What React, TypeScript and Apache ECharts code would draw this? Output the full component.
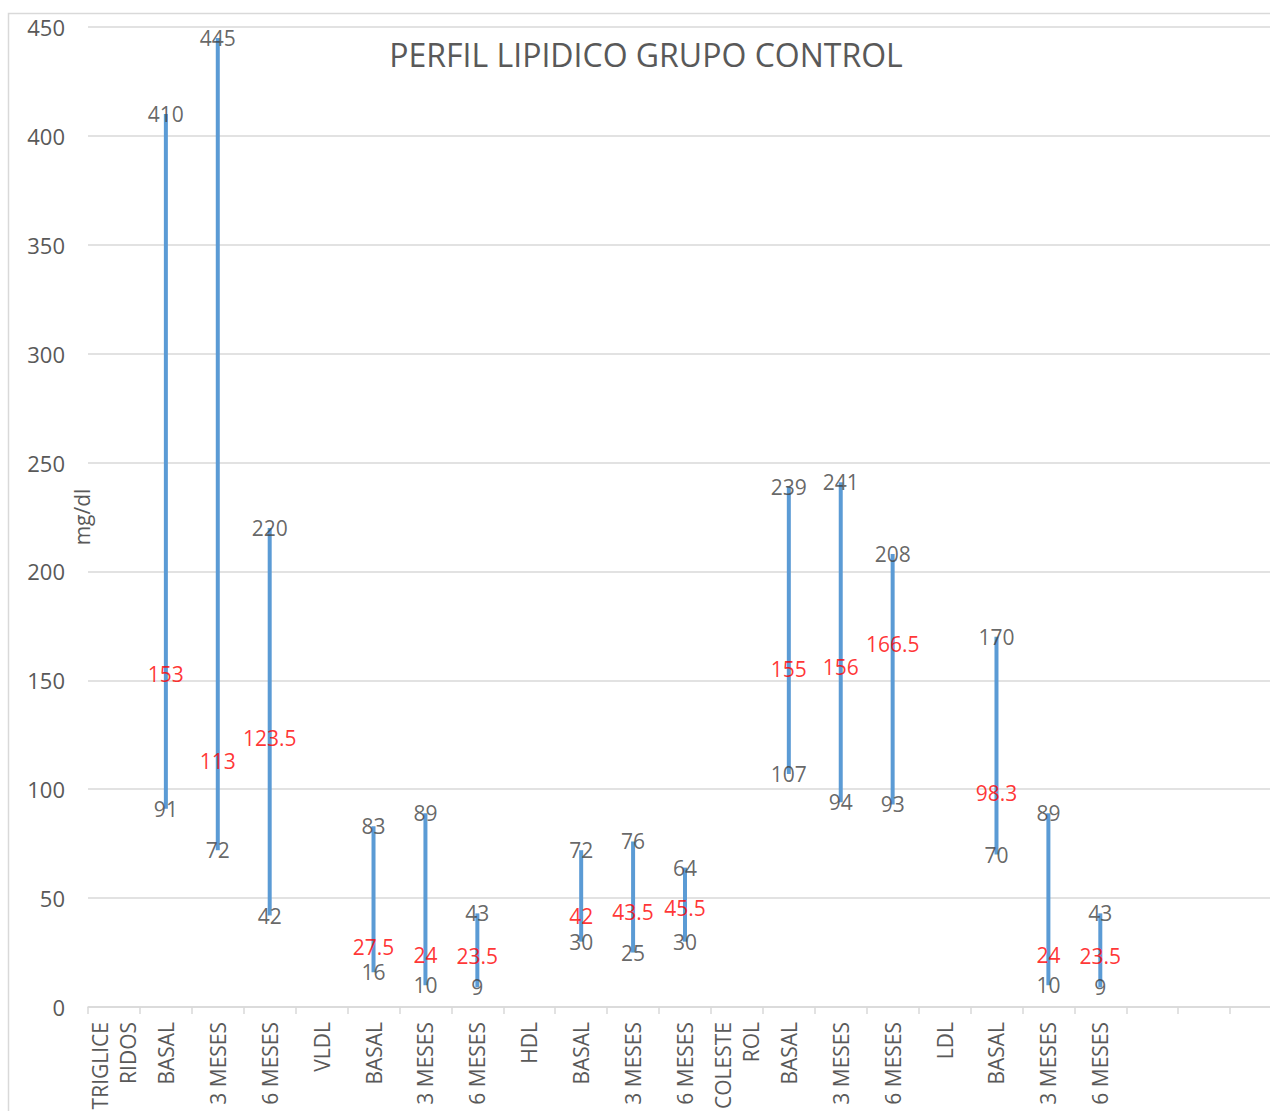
import React, { useEffect, useRef } from "react";
import * as echarts from "echarts";

const categories = [
  "TRIGLICE\nRIDOS", "BASAL", "3 MESES", "6 MESES",
  "VLDL", "BASAL", "3 MESES", "6 MESES",
  "HDL", "BASAL", "3 MESES", "6 MESES",
  "COLESTE\nROL", "BASAL", "3 MESES", "6 MESES",
  "LDL", "BASAL", "3 MESES", "6 MESES",
  "", "", "",
];

const highValues = [
  null, 410, 445, 220,
  null, 83, 89, 43,
  null, 72, 76, 64,
  null, 239, 241, 208,
  null, 170, 89, 43,
  null, null, null,
];

const lowValues = [
  null, 91, 72, 42,
  null, 16, 10, 9,
  null, 30, 25, 30,
  null, 107, 94, 93,
  null, 70, 10, 9,
  null, null, null,
];

const midValues = [
  null, 153, 113, 123.5,
  null, 27.5, 24, 23.5,
  null, 42, 43.5, 45.5,
  null, 155, 156, 166.5,
  null, 98.3, 24, 23.5,
  null, null, null,
];

const yTicks = [0, 50, 100, 150, 200, 250, 300, 350, 400, 450];

const FONT = "Open Sans";

function pts(vals: (number | null)[]) {
  const out: [number, number][] = [];
  vals.forEach((v, i) => {
    if (v != null) out.push([i, v]);
  });
  return out;
}

export default function App() {
  const ref = useRef<HTMLDivElement>(null);
  useEffect(() => {
    document.body.style.margin = "0";
    document.body.style.overflow = "hidden";
    if (!ref.current) return;
    const chart = echarts.init(ref.current, null, { renderer: "svg" });

    const rangeData: [number, number, number][] = [];
    categories.forEach((_, i) => {
      const lo = lowValues[i];
      const hi = highValues[i];
      if (lo != null && hi != null) rangeData.push([i, lo, hi]);
    });

    const labelSeries = (name: string, vals: (number | null)[], color: string) => ({
      type: "scatter",
      name,
      data: pts(vals),
      symbol: "circle",
      symbolSize: 1,
      itemStyle: { color: "rgba(0,0,0,0)" },
      z: 5,
      label: {
        show: true,
        position: "inside",
        color,
        fontFamily: FONT,
        fontSize: 21,
        lineHeight: 21,
        formatter: (p: any) => String(p.value[1]),
      },
    });

    chart.setOption({
      animation: false,
      backgroundColor: "#ffffff",
      title: {
        text: "PERFIL LIPIDICO GRUPO CONTROL",
        left: 646,
        top: 38,
        padding: 0,
        textAlign: "center",
        textStyle: {
          fontFamily: FONT,
          fontSize: 32,
          fontWeight: "normal",
          color: "#595959",
        },
      },
      graphic: [
        {
          type: "rect",
          z: -10,
          shape: { x: 8.5, y: 13.5, width: 1400, height: 1300 },
          style: { fill: "none", stroke: "#d9d9d9", lineWidth: 1.5 },
        },
      ],
      grid: {
        left: 88,
        top: 27,
        bottom: 104,
        right: -12,
        outerBoundsMode: "none",
        containLabel: false,
      },
      xAxis: {
        type: "category",
        data: categories,
        boundaryGap: true,
        axisLine: { show: true, lineStyle: { color: "#d9d9d9", width: 1.5 } },
        axisTick: {
          show: true,
          interval: 0,
          length: 7,
          lineStyle: { color: "#d9d9d9", width: 1.5 },
        },
        axisLabel: {
          interval: 0,
          rotate: 90,
          margin: 15,
          fontFamily: FONT,
          fontSize: 21,
          color: "#595959",
          lineHeight: 28,
        },
        splitLine: { show: false },
      },
      yAxis: {
        type: "value",
        min: yTicks[0],
        max: yTicks[yTicks.length - 1],
        interval: 50,
        name: "mg/dl",
        nameLocation: "middle",
        nameRotate: 90,
        nameGap: -4,
        nameMoveOverlap: false,
        nameTextStyle: { fontFamily: FONT, fontSize: 21, color: "#595959" },
        axisLine: { show: false },
        axisTick: { show: false },
        axisLabel: {
          margin: 23,
          fontFamily: FONT,
          fontSize: 22,
          color: "#595959",
        },
        splitLine: { show: true, lineStyle: { color: "#d9d9d9", width: 1.5 } },
      },
      series: [
        {
          type: "custom",
          name: "rango",
          data: rangeData,
          z: 2,
          renderItem: (params: any, api: any) => {
            const x = api.value(0);
            const p1 = api.coord([x, api.value(1)]);
            const p2 = api.coord([x, api.value(2)]);
            return {
              type: "line",
              shape: { x1: p1[0], y1: p1[1], x2: p2[0], y2: p2[1] },
              style: { stroke: "#5B9BD5", lineWidth: 4 },
            };
          },
        },
        labelSeries("Máximo", highValues, "#404040"),
        labelSeries("Mínimo", lowValues, "#404040"),
        labelSeries("Mediana", midValues, "#FF0000"),
      ],
    });
    return () => chart.dispose();
  }, []);
  return <div ref={ref} style={{ width: 1270, height: 1111 }} />;
}
